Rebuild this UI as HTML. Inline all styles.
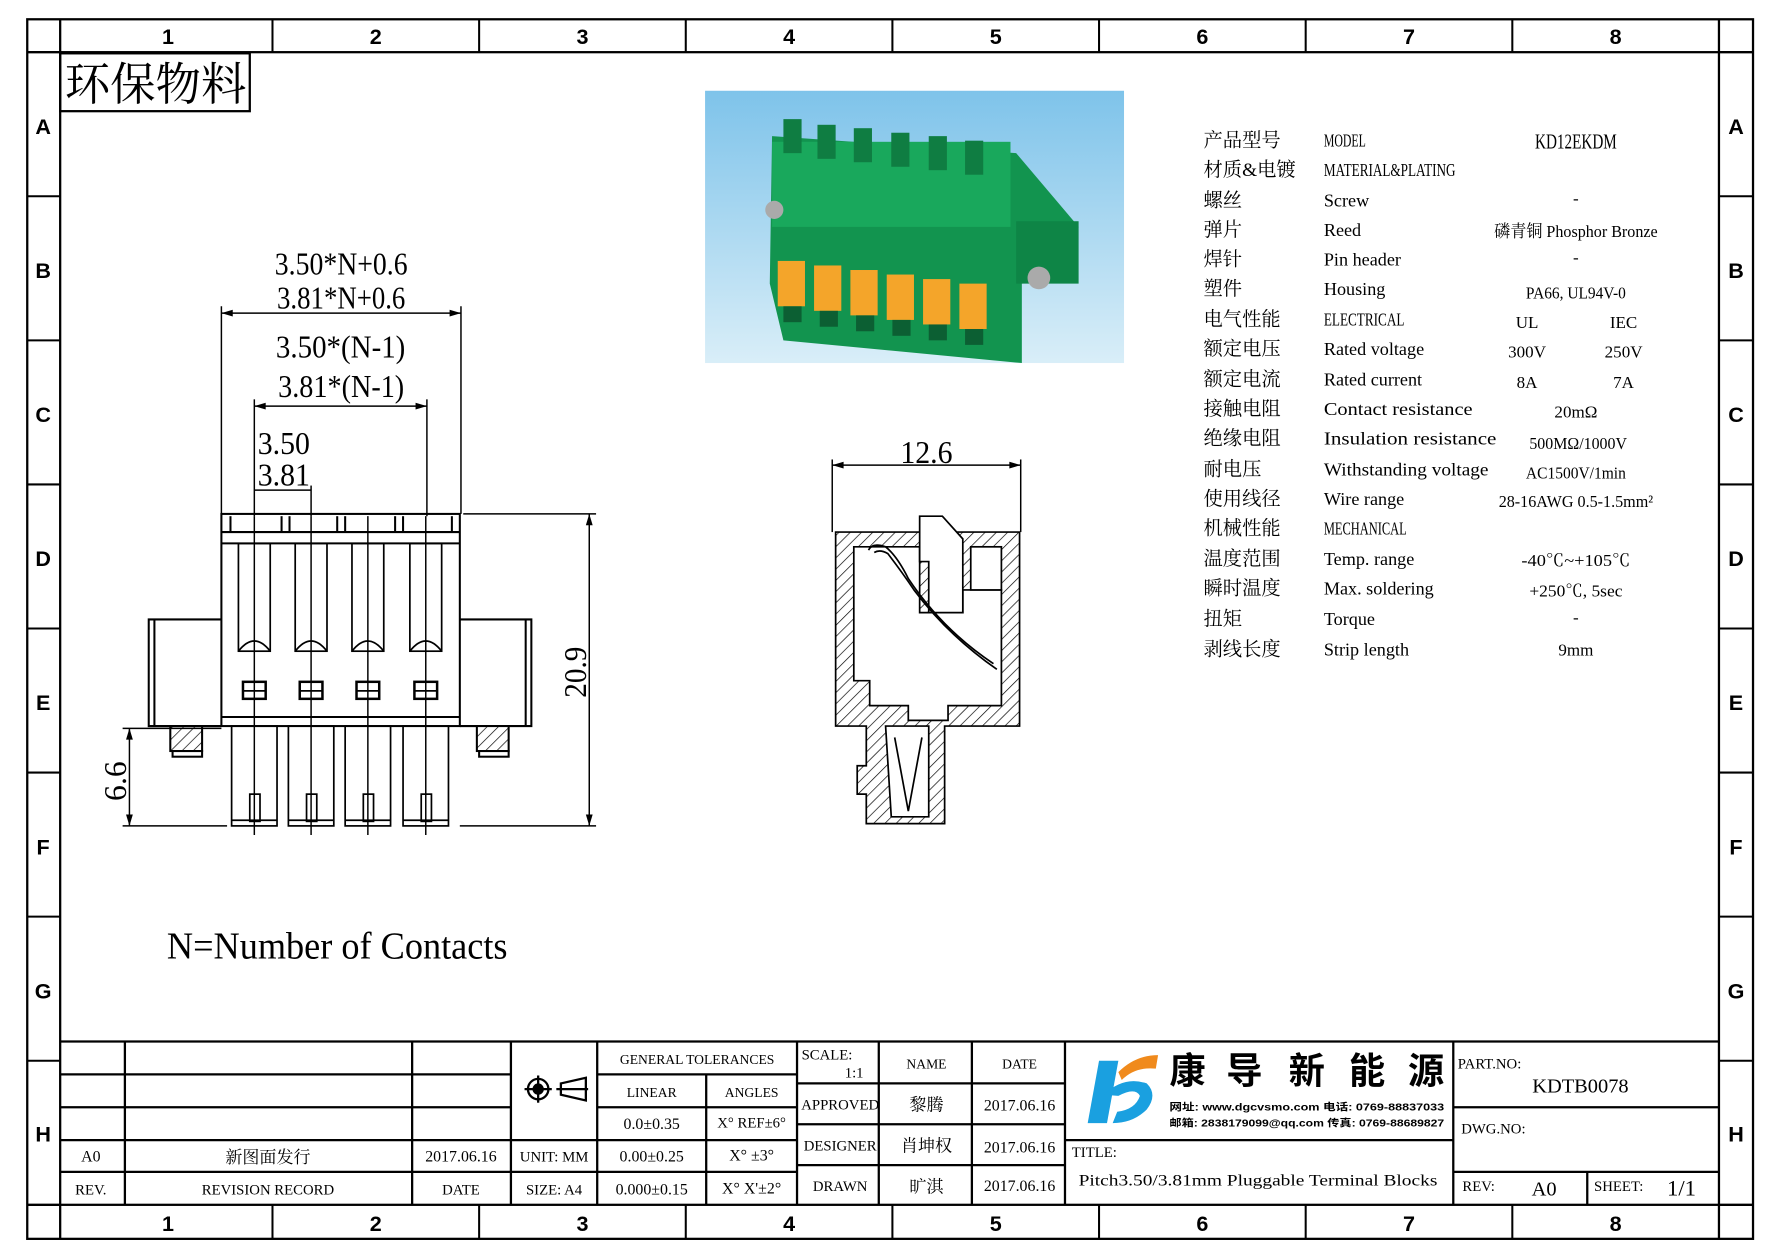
<!DOCTYPE html>
<html><head><meta charset="utf-8"><style>
html,body{margin:0;padding:0;background:#fff;}
svg{display:block;}
text{font-family:"Liberation Serif","Noto Serif CJK SC","Noto Sans CJK SC",serif;fill:#000;}
.s{font-family:"Liberation Sans","Noto Sans CJK SC",sans-serif;font-weight:bold;}
</style></head><body>
<svg width="1778" height="1257" viewBox="0 0 1566 1108" preserveAspectRatio="none" xmlns="http://www.w3.org/2000/svg">
<defs>
<pattern id="h" width="7" height="7" patternUnits="userSpaceOnUse" patternTransform="rotate(45)">
<rect width="7" height="7" fill="#fff"/><line x1="0" y1="0" x2="0" y2="7" stroke="#000" stroke-width="1.2"/></pattern>
<linearGradient id="bg" x1="0" y1="0" x2="0" y2="1"><stop offset="0" stop-color="#7ec3ea"/><stop offset="1" stop-color="#d9eef8"/></linearGradient>
<g id="pin" fill="none" stroke="#000" stroke-width="1.5">
<rect x="-14" y="479" width="28" height="95"/>
<path d="M-14 574 Q0 556 14 574"/>
<rect x="-10" y="601" width="20" height="15" stroke-width="2.2"/>
<line x1="-10" y1="609" x2="10" y2="609"/>
<rect x="-20" y="640" width="40" height="88"/>
<line x1="-20" y1="723" x2="20" y2="723"/>
<rect x="-4" y="700" width="9" height="24"/>
<line x1="0" y1="455" x2="0" y2="736" stroke-width="1.3"/>
</g>
</defs>
<rect width="1566" height="1108" fill="#fff"/>
<g fill="none" stroke="#000" stroke-width="2">
<rect x="24" y="17" width="1520" height="1075"/>
<rect x="53" y="46" width="1461" height="1016"/>
<line x1="53" y1="17" x2="53" y2="46"/><line x1="1514" y1="17" x2="1514" y2="46"/>
<line x1="53" y1="1062" x2="53" y2="1092"/><line x1="1514" y1="1062" x2="1514" y2="1092"/>
<line x1="24" y1="46" x2="53" y2="46"/><line x1="1514" y1="46" x2="1544" y2="46"/>
<line x1="24" y1="1062" x2="53" y2="1062"/><line x1="1514" y1="1062" x2="1544" y2="1062"/>
</g>
<g stroke="#000" stroke-width="1.8">
<line x1="240" y1="17" x2="240" y2="46"/><line x1="422" y1="17" x2="422" y2="46"/><line x1="604" y1="17" x2="604" y2="46"/><line x1="786" y1="17" x2="786" y2="46"/><line x1="968" y1="17" x2="968" y2="46"/><line x1="1150" y1="17" x2="1150" y2="46"/><line x1="1332" y1="17" x2="1332" y2="46"/>
<line x1="240" y1="1062" x2="240" y2="1092"/><line x1="422" y1="1062" x2="422" y2="1092"/><line x1="604" y1="1062" x2="604" y2="1092"/><line x1="786" y1="1062" x2="786" y2="1092"/><line x1="968" y1="1062" x2="968" y2="1092"/><line x1="1150" y1="1062" x2="1150" y2="1092"/><line x1="1332" y1="1062" x2="1332" y2="1092"/>
<line x1="24" y1="173" x2="53" y2="173"/><line x1="24" y1="300" x2="53" y2="300"/><line x1="24" y1="427" x2="53" y2="427"/><line x1="24" y1="554" x2="53" y2="554"/><line x1="24" y1="681" x2="53" y2="681"/><line x1="24" y1="808" x2="53" y2="808"/><line x1="24" y1="935" x2="53" y2="935"/>
<line x1="1514" y1="173" x2="1544" y2="173"/><line x1="1514" y1="300" x2="1544" y2="300"/><line x1="1514" y1="427" x2="1544" y2="427"/><line x1="1514" y1="554" x2="1544" y2="554"/><line x1="1514" y1="681" x2="1544" y2="681"/><line x1="1514" y1="808" x2="1544" y2="808"/><line x1="1514" y1="935" x2="1544" y2="935"/>
</g>
<g class="s" font-size="19" text-anchor="middle">
<text x="148" y="39" class="s">1</text><text x="331" y="39" class="s">2</text><text x="513" y="39" class="s">3</text><text x="695" y="39" class="s">4</text><text x="877" y="39" class="s">5</text><text x="1059" y="39" class="s">6</text><text x="1241" y="39" class="s">7</text><text x="1423" y="39" class="s">8</text>
<text x="148" y="1085" class="s">1</text><text x="331" y="1085" class="s">2</text><text x="513" y="1085" class="s">3</text><text x="695" y="1085" class="s">4</text><text x="877" y="1085" class="s">5</text><text x="1059" y="1085" class="s">6</text><text x="1241" y="1085" class="s">7</text><text x="1423" y="1085" class="s">8</text>
<text x="38" y="118" class="s">A</text><text x="38" y="245" class="s">B</text><text x="38" y="372" class="s">C</text><text x="38" y="499" class="s">D</text><text x="38" y="626" class="s">E</text><text x="38" y="753" class="s">F</text><text x="38" y="880" class="s">G</text><text x="38" y="1006" class="s">H</text>
<text x="1529" y="118" class="s">A</text><text x="1529" y="245" class="s">B</text><text x="1529" y="372" class="s">C</text><text x="1529" y="499" class="s">D</text><text x="1529" y="626" class="s">E</text><text x="1529" y="753" class="s">F</text><text x="1529" y="880" class="s">G</text><text x="1529" y="1006" class="s">H</text>
</g>
<rect x="53" y="47" width="167" height="51" fill="none" stroke="#000" stroke-width="2"/>
<text x="57" y="88" font-size="40" textLength="160" lengthAdjust="spacingAndGlyphs">环保物料</text>
<rect x="621" y="80" width="369" height="240" fill="url(#bg)"/>
<g>
<polygon points="680,120 895,135 950,200 945,245 900,250 900,320 690,300 678,250" fill="#12944f"/>
<rect x="680" y="125" width="210" height="75" fill="#19a85c"/>
<g fill="#0f7d42"><rect x="690" y="105" width="16" height="30"/><rect x="720" y="110" width="16" height="30"/><rect x="752" y="113" width="16" height="30"/><rect x="785" y="117" width="16" height="30"/><rect x="818" y="120" width="16" height="30"/><rect x="850" y="124" width="16" height="30"/></g>
<rect x="895" y="195" width="55" height="55" fill="#0e8546"/>
<circle cx="915" cy="245" r="10" fill="#aaa"/><circle cx="682" cy="185" r="8" fill="#aaa"/>
<g fill="#f4a52a"><rect x="685" y="230" width="24" height="40"/><rect x="717" y="234" width="24" height="40"/><rect x="749" y="238" width="24" height="40"/><rect x="781" y="242" width="24" height="40"/><rect x="813" y="246" width="24" height="40"/><rect x="845" y="250" width="24" height="40"/></g>
<g fill="#0c5f33"><rect x="690" y="270" width="16" height="14"/><rect x="722" y="274" width="16" height="14"/><rect x="754" y="278" width="16" height="14"/><rect x="786" y="282" width="16" height="14"/><rect x="818" y="286" width="16" height="14"/><rect x="850" y="290" width="16" height="14"/></g>
</g>
<g fill="none" stroke="#000" stroke-width="1.8">
<rect x="195" y="453" width="210" height="187"/>
<line x1="195" y1="469" x2="405" y2="469"/><line x1="195" y1="479" x2="405" y2="479"/><line x1="195" y1="632" x2="405" y2="632"/>
<line x1="203" y1="455" x2="203" y2="469"/><line x1="248" y1="455" x2="248" y2="469"/><line x1="255" y1="455" x2="255" y2="469"/><line x1="297" y1="455" x2="297" y2="469"/><line x1="304" y1="455" x2="304" y2="469"/><line x1="348" y1="455" x2="348" y2="469"/><line x1="355" y1="455" x2="355" y2="469"/><line x1="398" y1="455" x2="398" y2="469"/>
<path d="M195 546 H131 V640 H195"/><line x1="136" y1="546" x2="136" y2="640"/>
<path d="M405 546 H468 V640 H405"/><line x1="463" y1="546" x2="463" y2="640"/>
<rect x="150" y="640" width="28" height="22" fill="url(#h)"/><rect x="152" y="662" width="26" height="5"/>
<rect x="420" y="640" width="28" height="22" fill="url(#h)"/><rect x="422" y="662" width="26" height="5"/>
</g>
<use href="#pin" x="224"/><use href="#pin" x="274"/><use href="#pin" x="324"/><use href="#pin" x="375"/>
<g stroke="#000" stroke-width="1.3" fill="none">
<line x1="195" y1="270" x2="195" y2="453"/><line x1="406" y1="270" x2="406" y2="453"/>
<line x1="195" y1="276" x2="406" y2="276"/>
<line x1="224" y1="352" x2="224" y2="455"/><line x1="376" y1="352" x2="376" y2="455"/>
<line x1="224" y1="358" x2="376" y2="358"/>
<line x1="274" y1="428" x2="274" y2="455"/><line x1="224" y1="432" x2="274" y2="432"/>
<line x1="408" y1="453" x2="525" y2="453"/><line x1="405" y1="728" x2="525" y2="728"/>
<line x1="519" y1="453" x2="519" y2="728"/>
<line x1="108" y1="642" x2="195" y2="642"/><line x1="108" y1="728" x2="200" y2="728"/>
<line x1="114" y1="642" x2="114" y2="728"/>
<line x1="733" y1="405" x2="733" y2="469"/><line x1="899" y1="405" x2="899" y2="469"/>
<line x1="733" y1="410" x2="899" y2="410"/>
</g>
<g fill="#000">
<polygon points="195,276 205,273 205,279"/><polygon points="406,276 396,273 396,279"/>
<polygon points="224,358 234,355 234,361"/><polygon points="376,358 366,355 366,361"/>
<polygon points="519,453 516,463 522,463"/><polygon points="519,728 516,718 522,718"/>
<polygon points="114,642 111,652 117,652"/><polygon points="114,728 111,718 117,718"/>
<polygon points="733,410 743,407 743,413"/><polygon points="899,410 889,407 889,413"/>
</g>
<g font-size="28">
<text x="242" y="242" textLength="117" lengthAdjust="spacingAndGlyphs">3.50*N+0.6</text>
<text x="244" y="272" textLength="113" lengthAdjust="spacingAndGlyphs">3.81*N+0.6</text>
<text x="243" y="315" textLength="114" lengthAdjust="spacingAndGlyphs">3.50*(N-1)</text>
<text x="245" y="350" textLength="111" lengthAdjust="spacingAndGlyphs">3.81*(N-1)</text>
<text x="227" y="400" textLength="46" lengthAdjust="spacingAndGlyphs">3.50</text>
<text x="227" y="428" textLength="46" lengthAdjust="spacingAndGlyphs">3.81</text>
<text x="793" y="408" textLength="46" lengthAdjust="spacingAndGlyphs">12.6</text>
<text transform="translate(516,615) rotate(-90)" textLength="45" lengthAdjust="spacingAndGlyphs">20.9</text>
<text transform="translate(111,706) rotate(-90)" textLength="35" lengthAdjust="spacingAndGlyphs">6.6</text>
</g>
<text x="147" y="845" font-size="34" textLength="300" lengthAdjust="spacingAndGlyphs">N=Number of Contacts</text>
<g stroke="#000" stroke-width="1.5">
<path d="M736 469 H898 V640 H832 V726 H763 V700 H755 V675 H763 V640 H736 Z" fill="url(#h)"/>
<path d="M752 482 H810 V540 H848 V520 H882 V622 H835 V635 H800 V622 H766 V600 H752 Z" fill="#fff"/>
<path d="M780 640 H818 V720 H785 Z" fill="#fff"/>
<path d="M810 455 H830 L848 475 V540 H818 V495 H810 Z" fill="#fff"/>
<rect x="855" y="482" width="27" height="38" fill="#fff"/>
<path d="M765 485 Q768 478 780 482 Q790 490 800 510 Q830 555 875 585" fill="none"/>
<path d="M770 487 Q775 484 782 488 Q795 505 805 520 Q835 560 878 590" fill="none"/>
<path d="M788 650 L800 715 L812 650" fill="none"/>
</g>
<g font-size="17">
<text x="1060" y="129">产品型号</text><text x="1060" y="155">材质&amp;电镀</text><text x="1060" y="182">螺丝</text><text x="1060" y="208">弹片</text><text x="1060" y="234">焊针</text><text x="1060" y="260">塑件</text><text x="1060" y="287">电气性能</text><text x="1060" y="313">额定电压</text><text x="1060" y="340">额定电流</text><text x="1060" y="366">接触电阻</text><text x="1060" y="392">绝缘电阻</text><text x="1060" y="419">耐电压</text><text x="1060" y="445">使用线径</text><text x="1060" y="471">机械性能</text><text x="1060" y="498">温度范围</text><text x="1060" y="524">瞬时温度</text><text x="1060" y="551">扭矩</text><text x="1060" y="578">剥线长度</text>
<g font-size="16">
<text x="1166" y="129" textLength="37" lengthAdjust="spacingAndGlyphs">MODEL</text>
<text x="1166" y="155" textLength="116" lengthAdjust="spacingAndGlyphs">MATERIAL&amp;PLATING</text>
<text x="1166" y="182">Screw</text><text x="1166" y="208">Reed</text><text x="1166" y="234">Pin header</text><text x="1166" y="260">Housing</text>
<text x="1166" y="287" textLength="71" lengthAdjust="spacingAndGlyphs">ELECTRICAL</text>
<text x="1166" y="313">Rated voltage</text><text x="1166" y="340">Rated current</text>
<text x="1166" y="366" textLength="131" lengthAdjust="spacingAndGlyphs">Contact resistance</text>
<text x="1166" y="392" textLength="152" lengthAdjust="spacingAndGlyphs">Insulation resistance</text>
<text x="1166" y="419" textLength="145" lengthAdjust="spacingAndGlyphs">Withstanding voltage</text>
<text x="1166" y="445">Wire range</text>
<text x="1166" y="471" textLength="73" lengthAdjust="spacingAndGlyphs">MECHANICAL</text>
<text x="1166" y="498">Temp. range</text><text x="1166" y="524">Max. soldering</text><text x="1166" y="551">Torque</text><text x="1166" y="578">Strip length</text>
</g>
<g font-size="15" text-anchor="middle">
<text x="1388" y="131" font-size="19" textLength="72" lengthAdjust="spacingAndGlyphs">KD12EKDM</text>
<text x="1388" y="180">-</text>
<text x="1388" y="209" textLength="144" lengthAdjust="spacingAndGlyphs">磷青铜 Phosphor Bronze</text>
<text x="1388" y="232">-</text>
<text x="1388" y="263" textLength="88" lengthAdjust="spacingAndGlyphs">PA66, UL94V-0</text>
<text x="1345" y="289">UL</text><text x="1430" y="289">IEC</text>
<text x="1345" y="315">300V</text><text x="1430" y="315">250V</text>
<text x="1345" y="342">8A</text><text x="1430" y="342">7A</text>
<text x="1388" y="368">20mΩ</text>
<text x="1390" y="396" textLength="86" lengthAdjust="spacingAndGlyphs">500MΩ/1000V</text>
<text x="1388" y="422" textLength="88" lengthAdjust="spacingAndGlyphs">AC1500V/1min</text>
<text x="1388" y="447" textLength="136" lengthAdjust="spacingAndGlyphs">28-16AWG 0.5-1.5mm²</text>
<text x="1388" y="499" textLength="96" lengthAdjust="spacingAndGlyphs">-40℃~+105℃</text>
<text x="1388" y="526" textLength="82" lengthAdjust="spacingAndGlyphs">+250℃, 5sec</text>
<text x="1388" y="549">-</text>
<text x="1388" y="578">9mm</text>
</g>
</g>
<g fill="none" stroke="#000" stroke-width="2">
<line x1="53" y1="918" x2="1514" y2="918"/>
<line x1="53" y1="947" x2="450" y2="947"/><line x1="53" y1="976" x2="450" y2="976"/><line x1="53" y1="1005" x2="526" y2="1005"/><line x1="53" y1="1033" x2="702" y2="1033"/>
<line x1="526" y1="947" x2="702" y2="947"/><line x1="526" y1="976" x2="702" y2="976"/><line x1="526" y1="1005" x2="702" y2="1005"/>
<line x1="702" y1="955" x2="938" y2="955"/><line x1="702" y1="991" x2="938" y2="991"/><line x1="702" y1="1027" x2="938" y2="1027"/>
<line x1="938" y1="1005" x2="1280" y2="1005"/>
<line x1="1280" y1="976" x2="1514" y2="976"/><line x1="1280" y1="1033" x2="1514" y2="1033"/>
<line x1="110" y1="918" x2="110" y2="1062"/><line x1="363" y1="918" x2="363" y2="1062"/><line x1="450" y1="918" x2="450" y2="1062"/><line x1="526" y1="918" x2="526" y2="1062"/>
<line x1="622" y1="947" x2="622" y2="1062"/><line x1="702" y1="918" x2="702" y2="1062"/><line x1="774" y1="918" x2="774" y2="1062"/><line x1="856" y1="918" x2="856" y2="1062"/><line x1="938" y1="918" x2="938" y2="1062"/><line x1="1280" y1="918" x2="1280" y2="1062"/><line x1="1398" y1="1033" x2="1398" y2="1062"/>
</g>
<g stroke="#000" stroke-width="2" fill="none">
<circle cx="474" cy="960" r="9"/><circle cx="474" cy="960" r="4" fill="#000"/>
<line x1="462" y1="960" x2="486" y2="960"/><line x1="474" y1="948" x2="474" y2="972"/>
<path d="M494 955 L516 950 V970 L494 965 Z"/><line x1="490" y1="960" x2="518" y2="960"/>
</g>
<g font-size="14" text-anchor="middle">
<text x="80" y="1024">A0</text><text x="236" y="1025" font-size="15">新图面发行</text><text x="406" y="1024">2017.06.16</text>
<text x="80" y="1053" font-size="13">REV.</text><text x="236" y="1053" font-size="13">REVISION RECORD</text><text x="406" y="1053" font-size="13">DATE</text>
<text x="488" y="1024" font-size="13">UNIT: MM</text><text x="488" y="1053" font-size="13">SIZE: A4</text>
<text x="614" y="938" font-size="12">GENERAL TOLERANCES</text>
<text x="574" y="967" font-size="12">LINEAR</text><text x="662" y="967" font-size="12">ANGLES</text>
<text x="574" y="995">0.0±0.35</text><text x="662" y="994" font-size="13">X° REF±6°</text>
<text x="574" y="1024">0.00±0.25</text><text x="662" y="1023">X° ±3°</text>
<text x="574" y="1053">0.000±0.15</text><text x="662" y="1052">X° X'±2°</text>
<text x="816" y="942" font-size="12">NAME</text><text x="898" y="942" font-size="12">DATE</text>
<text x="740" y="978" font-size="13">APPROVED</text><text x="816" y="979" font-size="15">黎腾</text><text x="898" y="979">2017.06.16</text>
<text x="740" y="1014" font-size="13">DESIGNER</text><text x="816" y="1015" font-size="15">肖坤权</text><text x="898" y="1016">2017.06.16</text>
<text x="740" y="1050" font-size="13">DRAWN</text><text x="816" y="1051" font-size="15">旷淇</text><text x="898" y="1050">2017.06.16</text>
</g>
<text x="706" y="934" font-size="13">SCALE:</text><text x="744" y="950" font-size="13">1:1</text>
<path d="M968 935 L985 935 L975 990 L958 990 Z" fill="#1aa0e0"/>
<path d="M972 965 Q990 948 1010 955 Q1020 965 1010 978 Q998 990 980 990 L984 980 Q1000 978 1004 966 Q1000 958 985 966 Z" fill="#1aa0e0"/>
<path d="M985 945 Q1000 930 1020 930 L1018 942 Q1000 940 988 952 Z" fill="#f08a1c"/>
<g font-size="32"><text x="1030" y="955" class="s">康</text><text x="1080" y="955" class="s">导</text><text x="1135" y="955" class="s">新</text><text x="1188" y="955" class="s">能</text><text x="1240" y="955" class="s">源</text></g>
<text x="1030" y="979" font-size="9" class="s" textLength="242" lengthAdjust="spacingAndGlyphs">网址: www.dgcvsmo.com   电话: 0769-88837033</text>
<text x="1030" y="993" font-size="9" class="s" textLength="242" lengthAdjust="spacingAndGlyphs">邮箱: 2838179099@qq.com 传真: 0769-88689827</text>
<text x="944" y="1020" font-size="13">TITLE:</text>
<text x="950" y="1045" font-size="14" textLength="316" lengthAdjust="spacingAndGlyphs">Pitch3.50/3.81mm Pluggable Terminal Blocks</text>
<text x="1284" y="942" font-size="13">PART.NO:</text>
<text x="1392" y="963" font-size="18" text-anchor="middle">KDTB0078</text>
<text x="1287" y="999" font-size="13">DWG.NO:</text>
<text x="1288" y="1050" font-size="13">REV:</text><text x="1360" y="1054" font-size="18" text-anchor="middle">A0</text>
<text x="1404" y="1050" font-size="13">SHEET:</text><text x="1481" y="1054" font-size="20" text-anchor="middle">1/1</text>
</svg>
</body></html>
